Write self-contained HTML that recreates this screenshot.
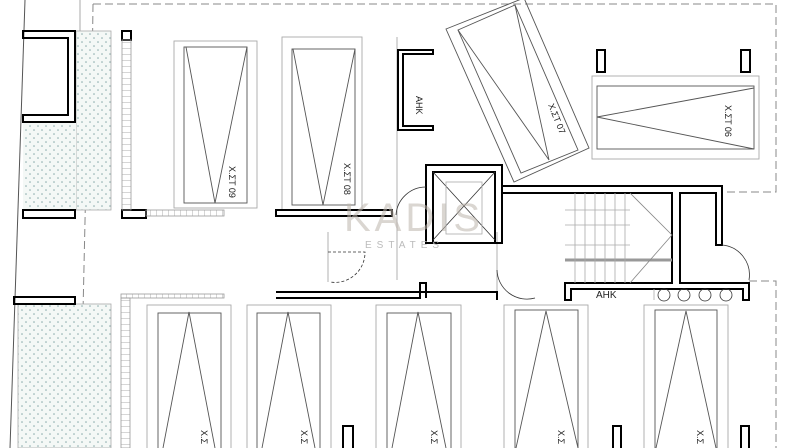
<!DOCTYPE html>
<html><head><meta charset="utf-8"><style>
html,body{margin:0;padding:0;background:#fff;width:796px;height:448px;overflow:hidden}
svg{display:block}
text{font-family:"Liberation Sans","DejaVu Sans",sans-serif}
</style></head><body>
<svg width="796" height="448" viewBox="0 0 796 448" xmlns="http://www.w3.org/2000/svg">
<defs>
<pattern id="dots" width="8" height="8" patternUnits="userSpaceOnUse">
<rect width="8" height="8" fill="#f4f8f6"/><circle cx="2" cy="2" r="0.8" fill="#8aa"/><circle cx="6" cy="6" r="0.8" fill="#8aa"/>
</pattern>
<pattern id="ladderV" width="9" height="6" patternUnits="userSpaceOnUse"><line x1="0" y1="0" x2="9" y2="0" stroke="#999" stroke-width="0.8"/></pattern>
<pattern id="ladderH" width="6" height="6" patternUnits="userSpaceOnUse"><line x1="0" y1="0" x2="0" y2="6" stroke="#999" stroke-width="0.8"/></pattern>
</defs>
<g fill="none" stroke="#888" stroke-width="1">
<!-- dashed outline -->
<path d="M93 4 H776 V192 H722" stroke-dasharray="8,4"/>
<path d="M749 281 H776 V448" stroke-dasharray="8,4"/>
<path d="M93 4 L92 80 M88 85 L80 448" stroke-dasharray="8,4"/>
<!-- left slanted lines -->
<path d="M25 0 L10 448" stroke="#555"/>
<path d="M80 0 V80" stroke="#aaa"/>
</g>
<!-- dotted areas -->
<rect x="76" y="31" width="35" height="179" fill="url(#dots)" stroke="#aaa" stroke-width="0.8"/>
<rect x="23" y="122" width="53" height="88" fill="url(#dots)"/>
<rect x="18" y="304" width="93" height="144" fill="url(#dots)" stroke="#aaa" stroke-width="0.8"/>
<!-- left wall box -->
<g fill="none" stroke="#000" stroke-width="2">
<path d="M23 31 H75 V122 H23 V115 H68 V38 H23 Z"/>
<rect x="23" y="210" width="52" height="8"/>
<rect x="14" y="297" width="61" height="7"/>
<rect x="122" y="31" width="9" height="9"/>
<rect x="122" y="210" width="24" height="8"/>
</g>
<!-- ladders -->
<rect x="122" y="40" width="9" height="170" fill="url(#ladderV)" stroke="#999" stroke-width="0.8"/>
<rect x="146" y="210" width="78" height="6" fill="url(#ladderH)" stroke="#999" stroke-width="0.8"/>
<rect x="121" y="294" width="103" height="4" fill="url(#ladderH)" stroke="#999" stroke-width="0.8"/>
<rect x="121" y="298" width="9" height="150" fill="url(#ladderV)" stroke="#999" stroke-width="0.8"/>
<!-- parking 09, 08 -->
<g fill="none" stroke="#555" stroke-width="0.9">
<rect x="174" y="41" width="83" height="167" stroke="#aaa"/>
<rect x="184" y="47" width="63" height="156"/>
<path d="M186 47 L215 203 L247 47"/>
<rect x="282" y="37" width="80" height="173" stroke="#aaa"/>
<rect x="292" y="49" width="63" height="156"/>
<path d="M293 49 L323 205 L355 49"/>
<path d="M397 37 V280" stroke="#aaa"/>
<!-- 07 rotated -->
<polygon points="446,29 524,-2 589,148 514,182"/>
<polygon points="458,30 515,5 578,150 521,173"/>
<path d="M458 30 L549 160 L515 5"/>
<!-- 06 -->
<rect x="592" y="76" width="167" height="83" stroke="#aaa"/>
<rect x="597" y="86" width="157" height="63"/>
<path d="M754 88 L597 117 L754 149"/>
<!-- bottom parkings -->
<rect x="147" y="305" width="84" height="150" stroke="#aaa"/><rect x="158" y="313" width="63" height="140"/><path d="M163 448 L189 312 L215 448"/>
<rect x="247" y="305" width="84" height="150" stroke="#aaa"/><rect x="257" y="313" width="63" height="140"/><path d="M262 448 L288 312 L315 448"/>
<rect x="376" y="305" width="85" height="150" stroke="#aaa"/><rect x="387" y="313" width="64" height="140"/><path d="M392 448 L418 312 L446 448"/>
<rect x="504" y="305" width="84" height="150" stroke="#aaa"/><rect x="515" y="310" width="63" height="145"/><path d="M516 448 L546 311 L578 448"/>
<rect x="644" y="305" width="84" height="150" stroke="#aaa"/><rect x="655" y="310" width="62" height="145"/><path d="M656 448 L686 311 L716 448"/>
<path d="M497 232 V298 M328 232 V282" stroke="#aaa"/>
</g>
<!-- thick walls -->
<g fill="none" stroke="#000" stroke-width="2">
<rect x="276" y="210" width="116" height="6"/>
<path d="M398 130 V50 H433 V54 H403 V126 H433 V130 Z"/>
<rect x="597" y="50" width="8" height="22"/><rect x="741" y="50" width="9" height="22"/>
<rect x="426" y="165" width="76" height="78"/>
<rect x="433" y="172" width="62" height="71"/>
<path d="M502 186 H722 V245 H716 V193 H680 V283 H749 V300 H743 V289 H571 V300 H565 V283 H672 V193 H502"/>
<path d="M276 292 H497 V300 M276 298 H420 V283 H426 V298"/>
<rect x="343" y="426" width="10" height="24"/><rect x="613" y="426" width="8" height="24"/><rect x="741" y="426" width="8" height="24"/>
</g>
<g fill="none" stroke="#333" stroke-width="0.8">
<path d="M433 172 L495 240 M495 172 L433 240"/>
<rect x="446" y="182" width="36" height="52" stroke="#aaa"/>
<path d="M565 260 H672" stroke="#999" stroke-width="3"/>
<path d="M575 193 V283 M585 193 V283 M595 193 V283 M605 193 V283 M615 193 V283 M625 193 V283 M565 210 H630 M565 225 H630 M565 245 H630" stroke="#aaa"/>
<path d="M630 193 L672 235 L630 283" stroke="#888"/>
<circle cx="664" cy="295" r="6"/><circle cx="684" cy="295" r="6"/><circle cx="705" cy="295" r="6"/><circle cx="726" cy="295" r="6"/>
<path d="M654 289 V300" stroke="#aaa"/>
<path d="M426 187 A30 30 0 0 0 396 215" />
<path d="M328 252 H365 A30 30 0 0 1 330 282" stroke-dasharray="3,2"/>
<path d="M497 270 A30 30 0 0 0 535 298"/>
<path d="M722 245 A30 30 0 0 1 749 280"/>
</g>
<!-- labels -->
<g font-size="9" fill="#222">
<text transform="translate(229,166) rotate(90)">X.ΣΤ 09</text>
<text transform="translate(344,163) rotate(90)">X.ΣΤ 08</text>
<text transform="translate(548,105) rotate(68)">X.ΣΤ 07</text>
<text transform="translate(725,105) rotate(90)">X.ΣΤ 06</text>
<text transform="translate(416,96) rotate(90)">ΑΗΚ</text>
<text x="596" y="298" font-size="10">ΑΗΚ</text>
<text transform="translate(201,430) rotate(90)">X.Σ</text>
<text transform="translate(301,430) rotate(90)">X.Σ</text>
<text transform="translate(431,430) rotate(90)">X.Σ</text>
<text transform="translate(558,430) rotate(90)">X.Σ</text>
<text transform="translate(697,430) rotate(90)">X.Σ</text>
</g>
<!-- watermark -->
<text x="344" y="231" font-size="40" fill="#bdb5ac" opacity="0.55" letter-spacing="4">KADIS</text>
<text x="365" y="248" font-size="10" fill="#bbb" letter-spacing="5">ESTATES</text>
</svg>
</body></html>
